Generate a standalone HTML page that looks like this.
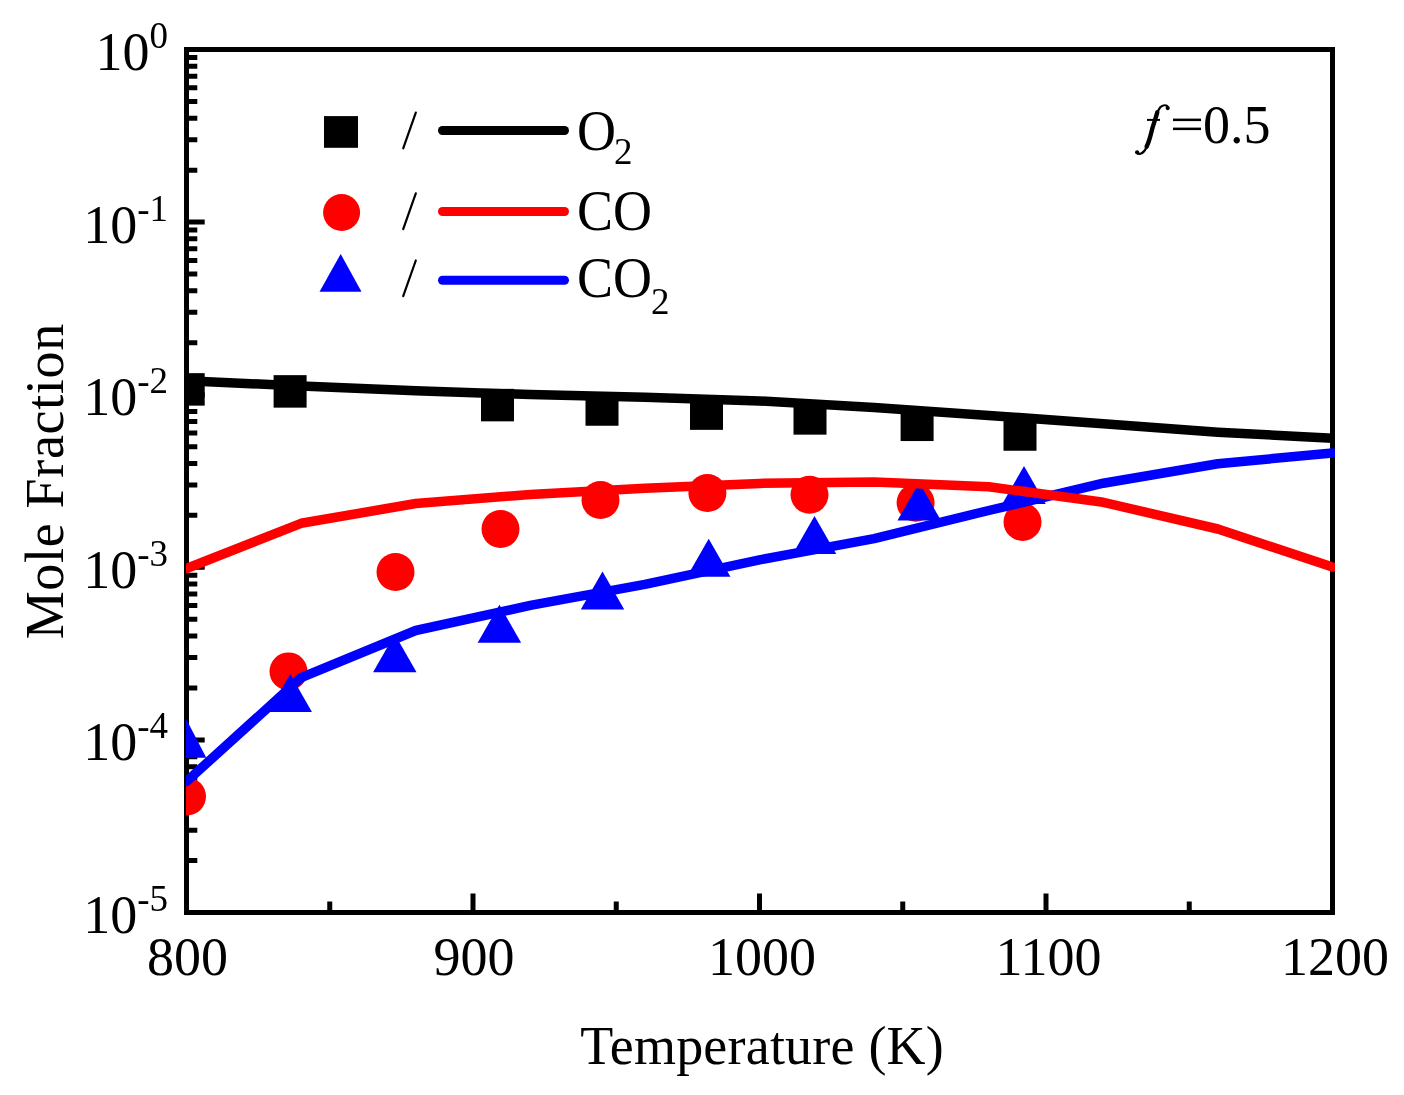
<!DOCTYPE html><html><head><meta charset="utf-8"><style>html,body{margin:0;padding:0;background:#fff;width:1404px;height:1095px;overflow:hidden}svg{display:block;will-change:transform}text{font-family:"Liberation Serif",serif}</style></head><body>
<svg width="1404" height="1095" viewBox="0 0 1404 1095">
<rect x="0" y="0" width="1404" height="1095" fill="#fff"/>
<defs><clipPath id="pc"><rect x="186" y="47" width="1149" height="868"/></clipPath></defs>
<path d="M186.5 49.50H204.7 M186.5 170.14H197.3 M186.5 139.75H197.3 M186.5 118.18H197.3 M186.5 101.46H197.3 M186.5 87.79H197.3 M186.5 76.24H197.3 M186.5 66.23H197.3 M186.5 57.40H197.3 M186.5 222.10H204.7 M186.5 342.74H197.3 M186.5 312.35H197.3 M186.5 290.78H197.3 M186.5 274.06H197.3 M186.5 260.39H197.3 M186.5 248.84H197.3 M186.5 238.83H197.3 M186.5 230.00H197.3 M186.5 394.70H204.7 M186.5 515.34H197.3 M186.5 484.95H197.3 M186.5 463.38H197.3 M186.5 446.66H197.3 M186.5 432.99H197.3 M186.5 421.44H197.3 M186.5 411.43H197.3 M186.5 402.60H197.3 M186.5 567.30H204.7 M186.5 687.94H197.3 M186.5 657.55H197.3 M186.5 635.98H197.3 M186.5 619.26H197.3 M186.5 605.59H197.3 M186.5 594.04H197.3 M186.5 584.03H197.3 M186.5 575.20H197.3 M186.5 739.90H204.7 M186.5 860.54H197.3 M186.5 830.15H197.3 M186.5 808.58H197.3 M186.5 791.86H197.3 M186.5 778.19H197.3 M186.5 766.64H197.3 M186.5 756.63H197.3 M186.5 747.80H197.3 M186.5 912.50H204.7 M186.50 912.5V893.5 M473.00 912.5V893.5 M759.50 912.5V893.5 M1046.00 912.5V893.5 M1332.50 912.5V893.5 M329.75 912.5V901.5 M616.25 912.5V901.5 M902.75 912.5V901.5 M1189.25 912.5V901.5" stroke="#000" stroke-width="5" fill="none"/>
<rect x="186.5" y="49.5" width="1146" height="863" fill="none" stroke="#000" stroke-width="5"/>
<text x="168" y="70.0" font-size="54" text-anchor="end">10<tspan font-size="37" dy="-22.5">0</tspan></text>
<text x="168" y="242.6" font-size="54" text-anchor="end">10<tspan font-size="37" dy="-21">-</tspan><tspan font-size="37" dy="-1">1</tspan></text>
<text x="168" y="415.2" font-size="54" text-anchor="end">10<tspan font-size="37" dy="-21">-</tspan><tspan font-size="37" dy="-1">2</tspan></text>
<text x="168" y="587.8" font-size="54" text-anchor="end">10<tspan font-size="37" dy="-21">-</tspan><tspan font-size="37" dy="-1">3</tspan></text>
<text x="168" y="760.4" font-size="54" text-anchor="end">10<tspan font-size="37" dy="-21">-</tspan><tspan font-size="37" dy="-1">4</tspan></text>
<text x="168" y="933.0" font-size="54" text-anchor="end">10<tspan font-size="37" dy="-21">-</tspan><tspan font-size="37" dy="-1">5</tspan></text>
<text x="187.5" y="974.5" font-size="54" text-anchor="middle">800</text>
<text x="474.0" y="974.5" font-size="54" text-anchor="middle">900</text>
<text x="762.0" y="974.5" font-size="54" text-anchor="middle">1000</text>
<text x="1048.5" y="974.5" font-size="54" text-anchor="middle">1100</text>
<text x="1335.0" y="974.5" font-size="54" text-anchor="middle">1200</text>
<text x="580.3" y="1064" font-size="54" textLength="363.5" lengthAdjust="spacing">Temperature (K)</text>
<text transform="translate(62.7 639.3) rotate(-90)" x="0" y="0" font-size="54" textLength="315.5" lengthAdjust="spacing">Mole Fraction</text>
<g clip-path="url(#pc)">
<rect x="171.7" y="373.15" width="33" height="32.5" fill="#000"/>
<rect x="273.6" y="375.15" width="33" height="32.5" fill="#000"/>
<rect x="481.0" y="388.85" width="33" height="32.5" fill="#000"/>
<rect x="585.5" y="393.25" width="33" height="32.5" fill="#000"/>
<rect x="690.0" y="397.35" width="33" height="32.5" fill="#000"/>
<rect x="793.5" y="402.15" width="33" height="32.5" fill="#000"/>
<rect x="900.6" y="408.55" width="33" height="32.5" fill="#000"/>
<rect x="1003.5" y="418.25" width="33" height="32.5" fill="#000"/>
<circle cx="187" cy="796.5" r="19" fill="#f00"/>
<circle cx="288.5" cy="671.4" r="19" fill="#f00"/>
<circle cx="395.5" cy="572" r="19" fill="#f00"/>
<circle cx="500.5" cy="529" r="19" fill="#f00"/>
<circle cx="600.5" cy="500" r="19" fill="#f00"/>
<circle cx="707.4" cy="493" r="19" fill="#f00"/>
<circle cx="809.5" cy="494.8" r="19" fill="#f00"/>
<circle cx="915.6" cy="502.8" r="19" fill="#f00"/>
<circle cx="1022.5" cy="521.9" r="19" fill="#f00"/>
<path d="M186.3 719.3L206.3 757.8H166Z" fill="#00f"/>
<path d="M290.2 674.1L311.95 712.1H268.45Z" fill="#00f"/>
<path d="M394.8 634.3L416.55 672.3H373.05Z" fill="#00f"/>
<path d="M499.4 604.8L521.15 642.8H477.65Z" fill="#00f"/>
<path d="M602.5 571.6L624.25 609.6H580.75Z" fill="#00f"/>
<path d="M708.7 538.8L730.45 576.8H686.95Z" fill="#00f"/>
<path d="M814.5 515.9L836.25 553.9H792.75Z" fill="#00f"/>
<path d="M919.2 482.5L940.95 520.5H897.45Z" fill="#00f"/>
<path d="M1024.0 466.0L1045.75 504.0H1002.25Z" fill="#00f"/>
<polyline points="186.5,380.8 301.1,386.0 415.7,390.7 530.3,394.6 644.9,397.3 759.5,400.9 874.1,407.6 988.7,415.4 1103.3,423.7 1217.9,432.2 1332.5,438.2" fill="none" stroke="#000" stroke-width="9.5" stroke-linejoin="round" stroke-linecap="round"/>
<polyline points="186.5,781.5 301.1,677.6 415.7,630.5 530.3,605.4 644.9,584.4 759.5,559.8 874.1,538.7 988.7,510.5 1103.3,483.2 1217.9,463.8 1332.5,452.9" fill="none" stroke="#00f" stroke-width="9.5" stroke-linejoin="round" stroke-linecap="round"/>
<polyline points="186.5,568.5 301.1,523.3 415.7,503.5 530.3,494.5 644.9,488.3 759.5,483.4 874.1,482.0 988.7,486.7 1103.3,502.3 1217.9,529.0 1332.5,567.0" fill="none" stroke="#f00" stroke-width="9.5" stroke-linejoin="round" stroke-linecap="round"/>
</g>
<rect x="324" y="116.1" width="34" height="31.7" fill="#000"/>
<circle cx="341.6" cy="212.5" r="18.5" fill="#f00"/>
<path d="M340.7 254L361.5 291.8H319.5Z" fill="#00f"/>
<path d="M403.2 148.3L415.8 112.6" stroke="#000" stroke-width="2.2" stroke-linecap="round"/>
<path d="M403.2 229.1L415.8 193.4" stroke="#000" stroke-width="2.2" stroke-linecap="round"/>
<path d="M403.2 296.2L415.8 260.5" stroke="#000" stroke-width="2.2" stroke-linecap="round"/>
<path d="M442.5 130.5H564.5" stroke="#000" stroke-width="9" stroke-linecap="round"/>
<path d="M442.5 211.5H564.5" stroke="#f00" stroke-width="9" stroke-linecap="round"/>
<path d="M442.5 280.3H564.5" stroke="#00f" stroke-width="9" stroke-linecap="round"/>
<text transform="translate(0 149.6) scale(1 1.055) translate(0 -149.6)" x="577" y="149.6" font-size="54">O</text>
<text x="614" y="164" font-size="37">2</text>
<text transform="translate(0 230.2) scale(1 1.055) translate(0 -230.2)" x="577" y="230.2" font-size="54">CO</text>
<text transform="translate(0 297) scale(1 1.055) translate(0 -297)" x="577" y="297" font-size="54">CO</text>
<text x="651" y="314.3" font-size="37">2</text>
<g fill="#000" stroke="#000"><path d="M1168,106.8 C1166.6,104.6 1162.6,104.7 1160.3,107.3 C1158.8,109 1157.8,111.5 1156.9,113.7" fill="none" stroke-width="2.2"/><path d="M1157.3,112.3 C1155.5,119 1153.5,124.5 1152.6,127.4 C1151.5,131.5 1150.8,135 1149.7,138.4 C1148.7,141.8 1147.8,144.5 1146.6,146.6" fill="none" stroke-width="4.4" stroke-linecap="round"/><path d="M1147.3,145.5 C1145.8,149.5 1143.2,152.8 1140.6,153.7 C1139,154.2 1137.8,153.8 1137.2,153" fill="none" stroke-width="2.2"/><circle cx="1167.7" cy="108.1" r="2.1" stroke="none"/><circle cx="1137.1" cy="152.3" r="2.1" stroke="none"/><rect x="1147" y="118.9" width="13" height="2" stroke="none"/><rect x="1173" y="118.6" width="28" height="2.5" stroke="none"/><rect x="1173" y="127.6" width="28" height="2.5" stroke="none"/></g>
<text x="1203" y="142.5" font-size="54">0.5</text>
</svg></body></html>
